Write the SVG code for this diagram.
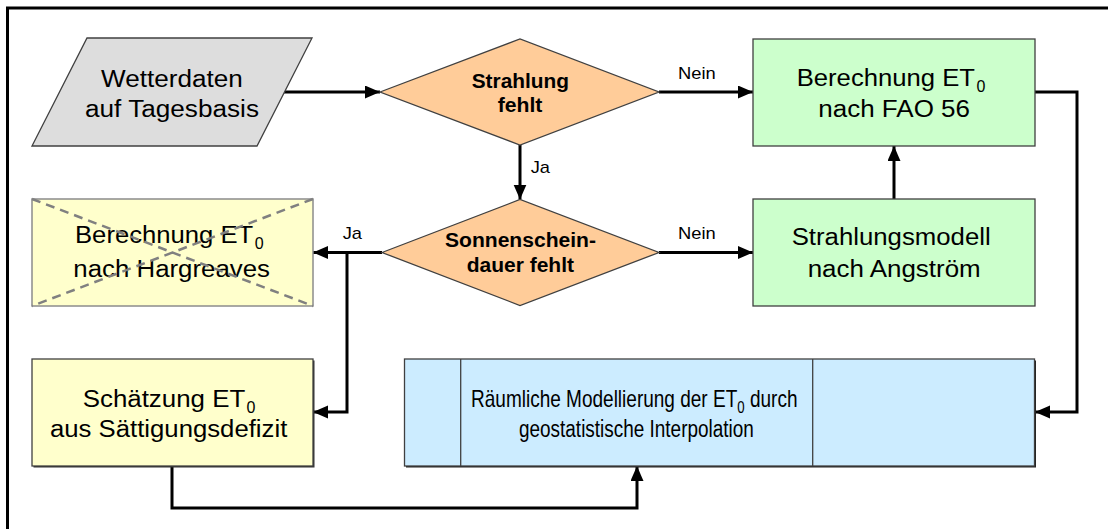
<svg xmlns="http://www.w3.org/2000/svg" width="1108" height="529" viewBox="0 0 1108 529">
  <style>
    .t { font-family: "Liberation Sans", Arial, sans-serif; font-size: 23px; fill: #000; }
    .b { font-family: "Liberation Sans", Arial, sans-serif; font-size: 20px; font-weight: bold; fill: #000; }
    .l { font-family: "Liberation Sans", Arial, sans-serif; font-size: 17px; fill: #000; }
    .sub { font-family: "Liberation Sans", Arial, sans-serif; font-size: 16px; fill: #000; }
    .box { stroke: #404040; stroke-width: 1.3; }
    .flow { fill: none; stroke: #000; stroke-width: 3; marker-end: url(#arrow); }
  </style>
  <defs>
    <marker id="arrow" markerUnits="userSpaceOnUse" markerWidth="16" markerHeight="14" refX="15" refY="6.5" orient="auto">
      <path d="M0,0 L15,6.5 L0,13 z" fill="#000"/>
    </marker>
  </defs>

  <rect width="1108" height="529" fill="#fff"/>

  <!-- frame (left and top edge) -->
  <path d="M7.5,529 V8 H1108" fill="none" stroke="#000" stroke-width="3"/>

  <!-- connectors -->
  <g id="connectors">
    <path class="flow" d="M284,92 H380"/>
    <path class="flow" d="M659,92 H753"/>
    <path class="flow" d="M520,145 V199.5"/>
    <path class="flow" d="M894,199 V146"/>
    <path class="flow" d="M659,252.5 H753"/>
    <path class="flow" d="M382,252.5 H313"/>
    <path class="flow" d="M347,252.5 V412 H313"/>
    <path class="flow" d="M1035,92 H1077 V412 H1035"/>
    <path class="flow" d="M172,466 V508 H637 V466"/>
    <text class="l" x="678" y="79" textLength="37.7" lengthAdjust="spacingAndGlyphs">Nein</text>
    <text class="l" x="530.7" y="172.7" textLength="19.3" lengthAdjust="spacingAndGlyphs">Ja</text>
    <text class="l" x="678" y="239.3" textLength="37.7" lengthAdjust="spacingAndGlyphs">Nein</text>
    <text class="l" x="342.7" y="239.3" textLength="19.3" lengthAdjust="spacingAndGlyphs">Ja</text>
  </g>

  <!-- input data -->
  <g id="wetterdaten">
    <polygon class="box" points="87,38 312,38 257,146 32,146" fill="#dddddd"/>
    <text class="t" x="101" y="87" textLength="141.7" lengthAdjust="spacingAndGlyphs">Wetterdaten</text>
    <text class="t" x="85" y="117" textLength="174" lengthAdjust="spacingAndGlyphs">auf Tagesbasis</text>
  </g>

  <!-- decision: radiation missing -->
  <g id="strahlung-fehlt">
    <polygon class="box" points="380,92 520,39 659,92 520,145" fill="#ffcc99"/>
    <text class="b" x="471.7" y="87.7" textLength="97.3" lengthAdjust="spacingAndGlyphs">Strahlung</text>
    <text class="b" x="497.7" y="111.7" textLength="44.7" lengthAdjust="spacingAndGlyphs">fehlt</text>
  </g>

  <!-- FAO 56 -->
  <g id="fao56">
    <rect class="box" x="753" y="39" width="282" height="107" fill="#ccffcc"/>
    <text class="t" x="796.7" y="86" textLength="178.3" lengthAdjust="spacingAndGlyphs">Berechnung ET</text>
    <text class="sub" x="976.5" y="92">0</text>
    <text class="t" x="818.3" y="116.7" textLength="151.7" lengthAdjust="spacingAndGlyphs">nach FAO 56</text>
  </g>

  <!-- decision: sunshine duration missing -->
  <g id="sonnenschein-fehlt">
    <polygon class="box" points="382,252.5 520,199.5 659,252.5 520,305.5" fill="#ffcc99"/>
    <text class="b" x="445" y="247.3" textLength="151" lengthAdjust="spacingAndGlyphs">Sonnenschein-</text>
    <text class="b" x="466.7" y="271.7" textLength="107.3" lengthAdjust="spacingAndGlyphs">dauer fehlt</text>
  </g>

  <!-- Angström radiation model -->
  <g id="angstroem">
    <rect class="box" x="753" y="199" width="282" height="107" fill="#ccffcc"/>
    <text class="t" x="791.7" y="245" textLength="199" lengthAdjust="spacingAndGlyphs">Strahlungsmodell</text>
    <text class="t" x="807.7" y="277.3" textLength="173" lengthAdjust="spacingAndGlyphs">nach Angström</text>
  </g>

  <!-- Hargreaves (crossed out) -->
  <g id="hargreaves">
    <rect x="32" y="199" width="281" height="107" fill="#ffffcc" stroke="#8c8c8c" stroke-width="1.5"/>
    <text class="t" x="75" y="243.3" textLength="178.3" lengthAdjust="spacingAndGlyphs">Berechnung ET</text>
    <text class="sub" x="254.8" y="249.3">0</text>
    <text class="t" x="73.3" y="276.7" textLength="196.7" lengthAdjust="spacingAndGlyphs">nach Hargreaves</text>
    <path d="M32,199 L313,306 M313,199 L32,306" stroke="#808080" stroke-width="2.5" stroke-dasharray="9 6" fill="none"/>
  </g>

  <!-- saturation deficit estimate -->
  <g id="saettigungsdefizit">
    <rect x="33.5" y="360.5" width="281" height="107" fill="#333"/>
    <rect class="box" x="32" y="359" width="281" height="107" fill="#ffffcc"/>
    <text class="t" x="82.7" y="407.3" textLength="162.5" lengthAdjust="spacingAndGlyphs">Schätzung ET</text>
    <text class="sub" x="246.5" y="413.3">0</text>
    <text class="t" x="50" y="437.3" textLength="237.3" lengthAdjust="spacingAndGlyphs">aus Sättigungsdefizit</text>
  </g>

  <!-- spatial modelling (predefined process), narrow lettering -->
  <g id="raeumliche-modellierung">
    <rect x="406" y="360.5" width="630" height="107" fill="#222"/>
    <rect class="box" x="404.5" y="359" width="630" height="107" fill="#ccecff"/>
    <path d="M460.7,359 V466 M812.7,359 V466" stroke="#404040" stroke-width="1.3"/>
    <text class="t" transform="translate(471,407.3) scale(0.827,1)" x="0" y="0">Räumliche Modellierung der ET<tspan font-size="16" dy="6">0</tspan><tspan dy="-6"> durch</tspan></text>
    <text class="t" transform="translate(519,437.3) scale(0.824,1)" x="0" y="0">geostatistische Interpolation</text>
  </g>
</svg>
